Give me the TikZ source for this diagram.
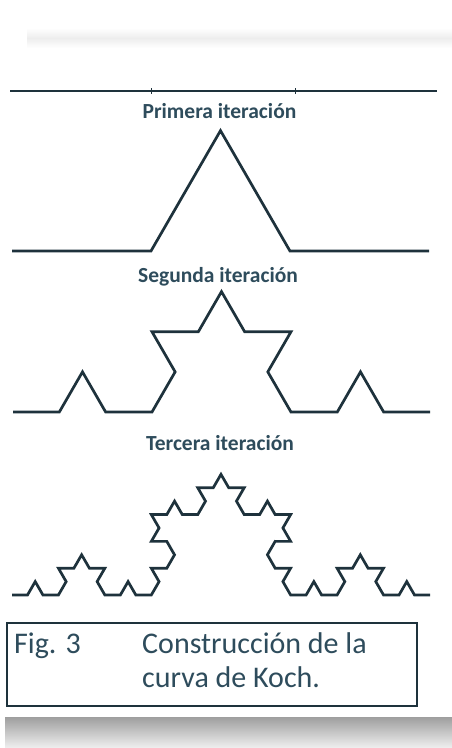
\documentclass[tikz,border=0pt]{standalone}
\usepackage{fontspec}
\setmainfont{Carlito}
\usetikzlibrary{decorations.fractals}
\definecolor{curvecol}{HTML}{1E323C}
\definecolor{textcol}{HTML}{2E4C5C}
\tikzset{
  kochline/.style={draw=curvecol, line width=2.7pt, line join=miter, line cap=butt},
  iterlabel/.style={anchor=base, text=textcol, font=\bfseries\fontsize{21.5}{24}\selectfont, inner sep=0pt},
  captext/.style={anchor=base west, text=textcol, font=\fontsize{30}{34}\selectfont, inner sep=0pt},
  decoration=Koch snowflake
}
\begin{document}
\begin{tikzpicture}[x=1pt,y=1pt]
\useasboundingbox (0,0) rectangle (452,-748);
\fill[white] (0,0) rectangle (452,-748);
% top faint shadow band
\shade[top color=white, bottom color=black!7] (27,-28) rectangle (452,-38);
\shade[top color=black!7, bottom color=white] (27,-38) rectangle (452,-48);
% iteration 0
\draw[kochline] (10,-91) -- (437,-91);
\draw[curvecol, line width=0.6pt] (151,-88) -- (151,-94) (295,-88) -- (295,-94);
\node[iterlabel] (l1) at (219.5,-118) {Primera iteración};
% iteration 1
\draw[kochline] decorate{ (12,-251) -- (429,-251) };
\node[iterlabel] (l2) at (218,-282) {Segunda iteración};
% iteration 2
\draw[kochline] decorate{ decorate{ (13,-412) -- (430,-412) } };
\node[iterlabel] (l3) at (220,-450) {Tercera iteración};
% iteration 3
\draw[kochline] decorate{ decorate{ decorate{ (12,-595) -- (430,-595) } } };
% caption box
\draw[curvecol, line width=1.6pt] (7,-623) rectangle (417,-706);
\node[captext] (fig) at (14,-653) {Fig. 3};
\node[captext] (c1) at (142,-653) {Construcción de la};
\node[captext] (c2) at (142,-687) {curva de Koch.};
% bottom shadow
\shade[top color=black!38, bottom color=black!6] (5,-717) rectangle (452,-748);
\end{tikzpicture}
\end{document}
